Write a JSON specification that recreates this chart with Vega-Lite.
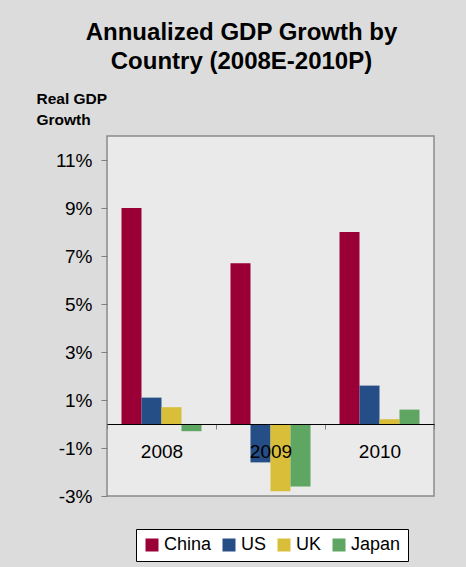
{
  "$schema": "https://vega.github.io/schema/vega-lite/v6.json",
  "autosize": {"type": "none"},
  "width": 327,
  "height": 360,
  "padding": {"left": 107, "top": 136, "right": 32, "bottom": 71},
  "background": "#dcdcdc",
  "title": {
    "text": ["Annualized GDP Growth by", "Country (2008E-2010P)"],
    "font": "Liberation Sans",
    "fontSize": 24,
    "fontWeight": "bold",
    "lineHeight": 29,
    "color": "#000000",
    "anchor": "middle",
    "frame": "group",
    "dx": -29,
    "offset": 17
  },
  "data": {
    "values": [
      {"year": "2008", "country": "China", "growth": 9.0},
      {"year": "2008", "country": "US", "growth": 1.1},
      {"year": "2008", "country": "UK", "growth": 0.7},
      {"year": "2008", "country": "Japan", "growth": -0.3},
      {"year": "2009", "country": "China", "growth": 6.7},
      {"year": "2009", "country": "US", "growth": -1.6},
      {"year": "2009", "country": "UK", "growth": -2.8},
      {"year": "2009", "country": "Japan", "growth": -2.6},
      {"year": "2010", "country": "China", "growth": 8.0},
      {"year": "2010", "country": "US", "growth": 1.6},
      {"year": "2010", "country": "UK", "growth": 0.2},
      {"year": "2010", "country": "Japan", "growth": 0.6}
    ]
  },
  "mark": {"type": "bar"},
  "encoding": {
    "x": {
      "field": "year",
      "type": "nominal",
      "scale": {"paddingInner": 0, "paddingOuter": 0},
      "axis": {
        "title": null,
        "labelAngle": 0,
        "offset": -72,
        "zindex": 1,
        "domainColor": "#000000",
        "domainWidth": 1,
        "tickBand": "extent",
        "tickColor": "#808080",
        "tickSize": 5,
        "labelPadding": 13,
        "labelFont": "Liberation Sans",
        "labelFontSize": 19,
        "labelColor": "#000000"
      }
    },
    "xOffset": {
      "field": "country",
      "type": "nominal",
      "sort": ["China", "US", "UK", "Japan"],
      "scale": {"paddingInner": 0, "paddingOuter": 0.725}
    },
    "y": {
      "field": "growth",
      "type": "quantitative",
      "scale": {"domain": [-3, 12], "nice": false, "zero": false},
      "axis": {
        "title": ["Real GDP", "Growth"],
        "titleAngle": 0,
        "titleAlign": "left",
        "titleBaseline": "top",
        "titleX": -71,
        "titleY": -45,
        "titleFont": "Liberation Sans",
        "titleFontSize": 15.5,
        "titleFontWeight": "bold",
        "titleLineHeight": 21,
        "titleColor": "#000000",
        "values": [-3, -1, 1, 3, 5, 7, 9, 11],
        "labelExpr": "datum.value + '%'",
        "grid": false,
        "domain": false,
        "tickColor": "#808080",
        "tickSize": 6,
        "labelPadding": 9,
        "labelFont": "Liberation Sans",
        "labelFontSize": 19,
        "labelColor": "#000000"
      }
    },
    "color": {
      "field": "country",
      "type": "nominal",
      "sort": ["China", "US", "UK", "Japan"],
      "scale": {
        "domain": ["China", "US", "UK", "Japan"],
        "range": ["#9A0036", "#264E86", "#D9BE3A", "#5FA663"]
      },
      "legend": {
        "title": null,
        "orient": "none",
        "legendX": 29,
        "legendY": 393,
        "direction": "horizontal",
        "symbolType": "square",
        "symbolSize": 169,
        "symbolStrokeWidth": 0,
        "labelFont": "Liberation Sans",
        "labelFontSize": 18,
        "labelColor": "#000000",
        "labelOffset": 3,
        "columnPadding": 8,
        "padding": 7,
        "fillColor": "#ffffff",
        "strokeColor": "#000000",
        "cornerRadius": 0
      }
    }
  },
  "config": {
    "view": {"fill": "#eaeaea", "stroke": "#8a8a8a", "strokeWidth": 1.5}
  }
}
